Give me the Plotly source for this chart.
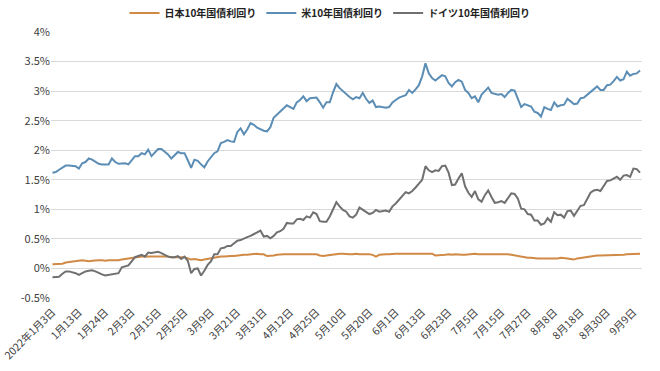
import plotly.graph_objects as go

tick_labels = ["2022年1月3日", "1月13日", "1月24日", "2月3日", "2月15日", "2月25日",
               "3月9日", "3月21日", "3月31日", "4月12日", "4月25日", "5月10日",
               "5月20日", "6月1日", "6月13日", "6月23日", "7月5日", "7月15日",
               "7月27日", "8月8日", "8月18日", "8月30日", "9月9日"]

japan = [
    0.07, 0.07, 0.07, 0.08, 0.10, 0.11, 0.12, 0.13, 0.13, 0.14,
    0.13, 0.12, 0.13, 0.14, 0.14, 0.14, 0.13, 0.14, 0.14, 0.13,
    0.14, 0.15, 0.16, 0.17, 0.18, 0.19, 0.19, 0.20, 0.20, 0.20,
    0.21, 0.20, 0.21, 0.21, 0.20, 0.20, 0.19, 0.19, 0.19, 0.18,
    0.19, 0.17, 0.15, 0.16, 0.15, 0.14, 0.15, 0.16, 0.18, 0.19,
    0.19, 0.20, 0.20, 0.21, 0.21, 0.21, 0.22, 0.22, 0.23, 0.23,
    0.24, 0.24, 0.25, 0.24, 0.24, 0.21, 0.21, 0.22, 0.23, 0.24,
    0.24, 0.24, 0.24, 0.24, 0.25, 0.25, 0.25, 0.24, 0.25, 0.25,
    0.24, 0.22, 0.21, 0.22, 0.23, 0.24, 0.25, 0.25, 0.25, 0.24,
    0.24, 0.24, 0.25, 0.24, 0.24, 0.25, 0.24, 0.23, 0.20, 0.23,
    0.24, 0.24, 0.24, 0.25, 0.25, 0.25, 0.25, 0.25, 0.25, 0.25,
    0.26, 0.26, 0.26, 0.26, 0.26, 0.25, 0.22, 0.22, 0.23, 0.23,
    0.24, 0.23, 0.24, 0.23, 0.23, 0.23, 0.24, 0.25, 0.25, 0.24,
    0.24, 0.24, 0.24, 0.24, 0.24, 0.24, 0.25, 0.24, 0.24, 0.23,
    0.22, 0.20, 0.19, 0.19, 0.18, 0.18, 0.17, 0.17, 0.17, 0.17,
    0.16, 0.16, 0.16, 0.17, 0.18, 0.18, 0.17, 0.16, 0.15, 0.17,
    0.18, 0.19, 0.20, 0.21, 0.21, 0.22, 0.22, 0.22, 0.22, 0.22,
    0.23, 0.23, 0.22, 0.23, 0.24, 0.24, 0.25, 0.25, 0.25,
]

us = [
    1.62, 1.63, 1.67, 1.70, 1.74, 1.74, 1.73, 1.73, 1.69, 1.78,
    1.80, 1.86, 1.84, 1.80, 1.77, 1.76, 1.76, 1.76, 1.86, 1.80,
    1.77, 1.77, 1.78, 1.76, 1.83, 1.90, 1.90, 1.95, 1.93, 2.01,
    1.90, 1.96, 2.02, 2.02, 1.97, 1.93, 1.86, 1.92, 1.97, 1.95,
    1.95, 1.83, 1.70, 1.84, 1.82, 1.76, 1.71, 1.81, 1.88, 1.95,
    1.98, 2.12, 2.14, 2.17, 2.15, 2.14, 2.31, 2.37, 2.27, 2.35,
    2.46, 2.43, 2.38, 2.35, 2.33, 2.32, 2.39, 2.55, 2.60, 2.66,
    2.71, 2.76, 2.73, 2.70, 2.81, 2.85, 2.91, 2.83, 2.88, 2.89,
    2.89, 2.81, 2.72, 2.81, 2.81, 2.98, 3.12, 3.05, 3.00, 2.94,
    2.90, 2.86, 2.90, 2.88, 2.97, 2.87, 2.80, 2.84, 2.73, 2.74,
    2.73, 2.72, 2.73, 2.81, 2.85, 2.89, 2.91, 2.93, 3.02, 2.97,
    3.03, 3.10, 3.25, 3.47, 3.30, 3.22, 3.18, 3.22, 3.27, 3.25,
    3.14, 3.08, 3.15, 3.19, 3.16, 3.02, 2.97, 2.88, 2.91, 2.81,
    2.94, 3.00, 3.06, 2.97, 2.95, 2.94, 2.95, 2.90, 2.97, 3.02,
    3.01, 2.87, 2.73, 2.78, 2.76, 2.74, 2.65, 2.63, 2.57, 2.73,
    2.70, 2.68, 2.81, 2.74, 2.76, 2.77, 2.87, 2.83, 2.78, 2.79,
    2.88, 2.89, 2.94, 2.99, 3.03, 3.08, 3.02, 3.02, 3.10, 3.11,
    3.17, 3.24, 3.18, 3.20, 3.33, 3.26, 3.29, 3.30, 3.35,
]

germany = [
    -0.15, -0.15, -0.14, -0.09, -0.05, -0.05, -0.06, -0.08, -0.11, -0.08,
    -0.05, -0.04, -0.03, -0.05, -0.08, -0.10, -0.12, -0.11, -0.10, -0.09,
    -0.08, 0.02, 0.04, 0.05, 0.12, 0.19, 0.21, 0.23, 0.20, 0.27,
    0.26, 0.27, 0.28, 0.26, 0.23, 0.20, 0.19, 0.19, 0.21, 0.16,
    0.20, 0.13, -0.08, -0.01, 0.00, -0.12, -0.04, 0.06, 0.12, 0.24,
    0.24, 0.34, 0.35, 0.38, 0.38, 0.42, 0.47, 0.48, 0.51, 0.53,
    0.55, 0.58, 0.61, 0.64, 0.54, 0.55, 0.51, 0.55, 0.61, 0.63,
    0.67, 0.77, 0.76, 0.76, 0.83, 0.84, 0.82, 0.88, 0.86, 0.95,
    0.92, 0.80, 0.79, 0.79, 0.88, 1.00, 1.12, 1.05, 0.99, 0.96,
    0.88, 0.86, 0.91, 1.03, 0.99, 0.96, 0.92, 0.94, 0.99, 0.96,
    0.97, 0.98, 0.96, 1.05, 1.10, 1.17, 1.24, 1.29, 1.27, 1.31,
    1.37, 1.44, 1.50, 1.73, 1.66, 1.63, 1.66, 1.65, 1.73, 1.74,
    1.62, 1.41, 1.42, 1.52, 1.61, 1.39, 1.28, 1.21, 1.31, 1.17,
    1.13, 1.24, 1.32, 1.21, 1.11, 1.12, 1.14, 1.11, 1.20, 1.27,
    1.26, 1.18, 1.01, 1.00, 0.92, 0.91, 0.81, 0.81, 0.74, 0.76,
    0.85, 0.79, 0.95, 0.90, 0.91, 0.86, 0.97, 0.98, 0.89, 0.98,
    1.06, 1.07, 1.17, 1.28, 1.32, 1.33, 1.31, 1.40, 1.48, 1.49,
    1.52, 1.55, 1.50, 1.57, 1.58, 1.55, 1.69, 1.68, 1.62,
]

y_ticks = [-0.5, 0, 0.5, 1, 1.5, 2, 2.5, 3, 3.5, 4]
y_tick_text = ["-0.5%", "0%", "0.5%", "1%", "1.5%", "2%", "2.5%", "3%", "3.5%", "4%"]

n = len(us)
x = list(range(n))
label_step = 8

font_family = "Noto Sans CJK JP"

fig = go.Figure()
fig.add_trace(go.Scatter(x=x[:len(japan)], y=japan, mode="lines", name="日本10年国債利回り",
                         line=dict(color="#D08A45", width=2)))
fig.add_trace(go.Scatter(x=x[:len(us)], y=us, mode="lines", name="米10年国債利回り",
                         line=dict(color="#5B8DB5", width=2)))
fig.add_trace(go.Scatter(x=x[:len(germany)], y=germany, mode="lines", name="ドイツ10年国債利回り",
                         line=dict(color="#707070", width=2)))

fig.update_layout(
    width=660, height=371,
    margin=dict(l=51, r=18, t=32, b=73, autoexpand=False),
    paper_bgcolor="white", plot_bgcolor="white",
    font=dict(family=font_family, size=11, color="#595959"),
    showlegend=True,
    legend=dict(orientation="h", x=0.5, xanchor="center", xref="container",
                y=0.965, yanchor="middle", yref="container",
                font=dict(family=font_family, size=10, color="#222222", weight="bold"),
                itemwidth=30, tracegroupgap=0, bgcolor="rgba(0,0,0,0)"),
    xaxis=dict(range=[-0.45, n - 0.4], tickmode="array",
               tickvals=[i * label_step for i in range(len(tick_labels))],
               ticktext=tick_labels, tickangle=-45, showgrid=False, zeroline=False,
               showline=False, ticks="", ticklabeloverflow="allow", ticklabelstandoff=5,
               tickfont=dict(size=10.5, color="#404040")),
    yaxis=dict(range=[-0.5, 4], tickmode="array", tickvals=y_ticks, ticktext=y_tick_text,
               showgrid=True, gridcolor="#D9D9D9", gridwidth=1, zeroline=False,
               showline=False, ticks="", tickfont=dict(size=11, color="#404040")),
)

fig.write_html("out.html", config={"displayModeBar": False},
               post_script="document.body.style.margin='0';")
